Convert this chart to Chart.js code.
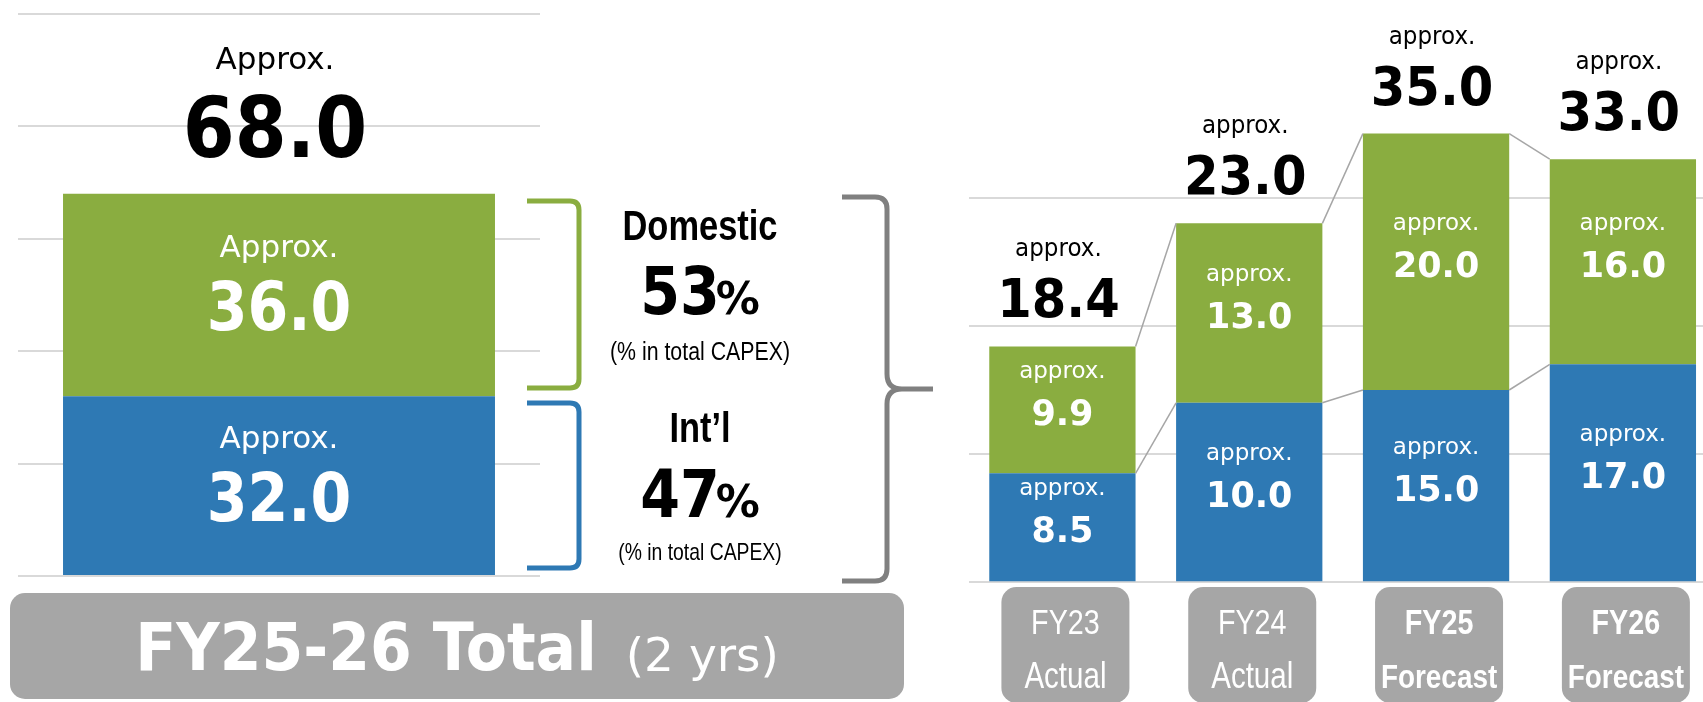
<!DOCTYPE html>
<html>
<head>
<meta charset="utf-8">
<script src="https://cdn.jsdelivr.net/npm/chart.js@4.4.1/dist/chart.umd.min.js"></script>
<style>
  html, body { margin: 0; padding: 0; background: #fff; overflow: hidden; }
  #wrap { position: relative; width: 1703px; height: 702px; overflow: hidden; }
  #leftChart { position: absolute; left: 0; top: 0; }
  #rightChart { position: absolute; left: 940px; top: 0; }
</style>
</head>
<body>
<div id="wrap">
  <canvas id="leftChart" width="960" height="702"></canvas>
  <canvas id="rightChart" width="790" height="702"></canvas>
</div>
<script>
// left: FY25-26 two-year total
const leftCategories = ['FY25-26 Total'];
const leftIntl = [32.0];
const leftDomestic = [36.0];
const leftIntlLabels = ['32.0'];
const leftDomesticLabels = ['36.0'];
const leftTotalLabels = ['68.0'];
const shareNames = ['Domestic', 'Int\u2019l'];
const sharePct = ['53', '47'];

// right: yearly capex (bar heights as drawn in the picture)
const years = ['FY23', 'FY24', 'FY25', 'FY26'];
const yearKinds = ['Actual', 'Actual', 'Forecast', 'Forecast'];
const intlValues = [8.5, 14.0, 15.0, 17.0];
const domesticValues = [9.9, 14.0, 20.0, 16.0];
const intlLabels = ['8.5', '10.0', '15.0', '17.0'];
const domesticLabels = ['9.9', '13.0', '20.0', '16.0'];
const totalLabels = ['18.4', '23.0', '35.0', '33.0'];

const GREEN = '#8aad40';
const BLUE = '#2e79b4';
const BOXGRAY = '#a6a6a6';
const GRID = '#d9d9d9';

function drawText(ctx, s, x, y, font, color, sx) {
  ctx.save();
  ctx.font = font;
  ctx.fillStyle = color;
  ctx.textAlign = 'center';
  ctx.textBaseline = 'alphabetic';
  ctx.translate(x, y);
  ctx.scale(sx || 1, 1);
  ctx.fillText(s, 0, 0);
  ctx.restore();
}

function textWidth(ctx, s, font, sx) {
  ctx.save();
  ctx.font = font;
  const w = ctx.measureText(s).width * (sx || 1);
  ctx.restore();
  return w;
}

// value labels inside the stacks and totals above them
const barLabels = {
  id: 'barLabels',
  afterDatasetsDraw(chart, args, o) {
    const ctx = chart.ctx;
    const lower = chart.getDatasetMeta(0).data;
    const upper = chart.getDatasetMeta(1).data;
    lower.forEach((bar, i) => {
      [[bar, o.lowLabels[i]], [upper[i], o.highLabels[i]]].forEach(([b, lab]) => {
        const c = (b.y + b.base) / 2;
        drawText(ctx, o.word, b.x, c + o.wordOff, o.wordFont, '#fff', 1);
        drawText(ctx, lab, b.x, c + o.numOff, o.numFont, '#fff', o.numScale);
      });
      const top = upper[i].y;
      const nb = top - o.topGap;
      drawText(ctx, o.totalLabels[i], bar.x + o.topDx, nb, o.topFont, '#000', o.topScale);
      drawText(ctx, o.word, bar.x + o.topDx, nb - o.topWordGap, o.topWordFont, '#000', o.topWordScale);
    });
  }
};

// left side extras: brackets, shares, bottom title box
const leftExtras = {
  id: 'leftExtras',
  afterDraw(chart) {
    const ctx = chart.ctx;
    function bracket(x0, x1, y0, y1, color) {
      ctx.save();
      ctx.strokeStyle = color;
      ctx.lineWidth = 5;
      ctx.beginPath();
      ctx.moveTo(x0, y0);
      ctx.lineTo(x1 - 9, y0);
      ctx.quadraticCurveTo(x1, y0, x1, y0 + 9);
      ctx.lineTo(x1, y1 - 9);
      ctx.quadraticCurveTo(x1, y1, x1 - 9, y1);
      ctx.lineTo(x0, y1);
      ctx.stroke();
      ctx.restore();
    }
    bracket(527, 579, 201, 388, GREEN);
    bracket(527, 579, 403, 568, BLUE);

    // big brace
    ctx.save();
    ctx.strokeStyle = '#808080';
    ctx.lineWidth = 5;
    ctx.beginPath();
    ctx.moveTo(842, 197);
    ctx.lineTo(875, 197);
    ctx.quadraticCurveTo(887, 197, 887, 209);
    ctx.lineTo(887, 374);
    ctx.quadraticCurveTo(887, 389, 902, 389);
    ctx.lineTo(933, 389);
    ctx.moveTo(902, 389);
    ctx.quadraticCurveTo(887, 389, 887, 404);
    ctx.lineTo(887, 569);
    ctx.quadraticCurveTo(887, 581, 875, 581);
    ctx.lineTo(842, 581);
    ctx.stroke();
    ctx.restore();

    // share texts
    const narrow = 0.82;
    const baseY = [[240, 314, 360, 26], [442, 517, 560, 23.6]];
    shareNames.forEach((name, i) => {
      const [yName, yPct, yNote, noteSize] = baseY[i];
      drawText(ctx, name, 700, yName, 'bold 42px "Liberation Sans", Arial, sans-serif', '#000', narrow);
      const fNum = 'bold 65px "DejaVu Sans", Verdana, sans-serif';
      const fPct = 'bold 44px "DejaVu Sans", Verdana, sans-serif';
      const gap = -4;
      const w1 = textWidth(ctx, sharePct[i], fNum, 0.88);
      const w2 = textWidth(ctx, '%', fPct, 1);
      const start = 700 - (w1 + gap + w2) / 2;
      drawText(ctx, sharePct[i], start + w1 / 2, yPct, fNum, '#000', 0.88);
      drawText(ctx, '%', start + w1 + gap + w2 / 2, yPct, fPct, '#000', 1);
      drawText(ctx, '(% in total CAPEX)', 700, yNote, noteSize + 'px "Liberation Sans", Arial, sans-serif', '#000', narrow);
    });

    // bottom title box
    ctx.save();
    ctx.fillStyle = BOXGRAY;
    ctx.beginPath();
    ctx.roundRect(10, 593, 894, 106, 15);
    ctx.fill();
    ctx.restore();
    const fBig = 'bold 66px "DejaVu Sans", Verdana, sans-serif';
    const fSmall = '47px "DejaVu Sans", Verdana, sans-serif';
    const t1 = 'FY25-26 Total', t2 = '(2 yrs)';
    const w1 = textWidth(ctx, t1, fBig, 0.91);
    const w2 = textWidth(ctx, t2, fSmall, 1);
    const start = 457 - (w1 + 29 + w2) / 2;
    drawText(ctx, t1, start + w1 / 2, 670, fBig, '#fff', 0.91);
    drawText(ctx, t2, start + w1 + 29 + w2 / 2, 671, fSmall, '#fff', 1);
  }
};

// right side: series lines between bars and category boxes
const rightExtras = {
  id: 'rightExtras',
  afterDatasetsDraw(chart) {
    const ctx = chart.ctx;
    ctx.save();
    ctx.strokeStyle = '#a6a6a6';
    ctx.lineWidth = 1.5;
    [0, 1].forEach(d => {
      const bars = chart.getDatasetMeta(d).data;
      for (let i = 0; i < bars.length - 1; i++) {
        const a = bars[i], b = bars[i + 1];
        ctx.beginPath();
        ctx.moveTo(a.x + a.width / 2, a.y);
        ctx.lineTo(b.x - b.width / 2, b.y);
        ctx.stroke();
      }
    });
    ctx.restore();
  },
  afterDraw(chart) {
    const ctx = chart.ctx;
    const xs = chart.scales.x;
    years.forEach((y, i) => {
      const cx = xs.getPixelForValue(i) + 3;
      ctx.save();
      ctx.fillStyle = BOXGRAY;
      ctx.beginPath();
      ctx.roundRect(cx - 64, 587, 128, 116, 15);
      ctx.fill();
      ctx.restore();
      const bold = yearKinds[i] === 'Forecast' ? 'bold ' : '';
      drawText(ctx, y, cx, 634, bold + '35px "Liberation Sans", Arial, sans-serif', '#fff', 0.82);
      drawText(ctx, yearKinds[i], cx, 688, bold + (bold ? '34px' : '36px') + ' "Liberation Sans", Arial, sans-serif', '#fff', 0.82);
    });
  }
};

new Chart(document.getElementById('leftChart'), {
  type: 'bar',
  data: {
    labels: leftCategories,
    datasets: [
      { label: 'Int\u2019l', data: leftIntl, backgroundColor: BLUE },
      { label: 'Domestic', data: leftDomestic, backgroundColor: GREEN }
    ]
  },
  options: {
    responsive: false,
    animation: false,
    devicePixelRatio: 1,
    layout: { padding: { left: 18, right: 420, top: 14, bottom: 126 } },
    datasets: { bar: { categoryPercentage: 1, barPercentage: 0.8275 } },
    plugins: {
      legend: { display: false },
      tooltip: { enabled: false },
      barLabels: {
        lowLabels: leftIntlLabels,
        highLabels: leftDomesticLabels,
        totalLabels: leftTotalLabels,
        word: 'Approx.',
        wordFont: '31px "DejaVu Sans", Verdana, sans-serif',
        wordOff: -38,
        numFont: 'bold 67px "DejaVu Sans", Verdana, sans-serif',
        numScale: 0.875,
        numOff: 35,
        topDx: -4,
        topGap: 37,
        topFont: 'bold 84px "DejaVu Sans", Verdana, sans-serif',
        topScale: 0.89,
        topWordGap: 88,
        topWordFont: '31px "DejaVu Sans", Verdana, sans-serif',
        topWordScale: 1
      }
    },
    scales: {
      x: { display: false, stacked: true },
      y: {
        stacked: true, min: 0, max: 100,
        ticks: { display: false, stepSize: 20 },
        grid: { color: GRID, lineWidth: 2, drawTicks: false },
        border: { display: false }
      }
    }
  },
  plugins: [barLabels, leftExtras]
});

new Chart(document.getElementById('rightChart'), {
  type: 'bar',
  data: {
    labels: years,
    datasets: [
      { label: 'Int\u2019l', data: intlValues, backgroundColor: BLUE },
      { label: 'Domestic', data: domesticValues, backgroundColor: GREEN }
    ]
  },
  options: {
    responsive: false,
    animation: false,
    devicePixelRatio: 1,
    layout: { padding: { left: 29, right: 13.7, top: 5.4, bottom: 119.7 } },
    datasets: { bar: { categoryPercentage: 1, barPercentage: 0.783 } },
    plugins: {
      legend: { display: false },
      tooltip: { enabled: false },
      barLabels: {
        lowLabels: intlLabels,
        highLabels: domesticLabels,
        totalLabels: totalLabels,
        word: 'approx.',
        wordFont: '23px "DejaVu Sans", Verdana, sans-serif',
        wordOff: -32,
        numFont: 'bold 35px "DejaVu Sans", Verdana, sans-serif',
        numScale: 1,
        numOff: 15,
        topDx: -4,
        topGap: 29,
        topFont: 'bold 54px "DejaVu Sans", Verdana, sans-serif',
        topScale: 0.92,
        topWordGap: 61,
        topWordFont: '24px "DejaVu Sans", Verdana, sans-serif',
        topWordScale: 0.96
      }
    },
    scales: {
      x: { display: false, stacked: true },
      y: {
        stacked: true, min: 0, max: 45,
        ticks: { display: false, stepSize: 10 },
        grid: {
          color: c => (c.tick && c.tick.value <= 30 ? GRID : 'rgba(0,0,0,0)'),
          lineWidth: 2, drawTicks: false
        },
        border: { display: false }
      }
    }
  },
  plugins: [barLabels, rightExtras]
});
</script>
</body>
</html>
